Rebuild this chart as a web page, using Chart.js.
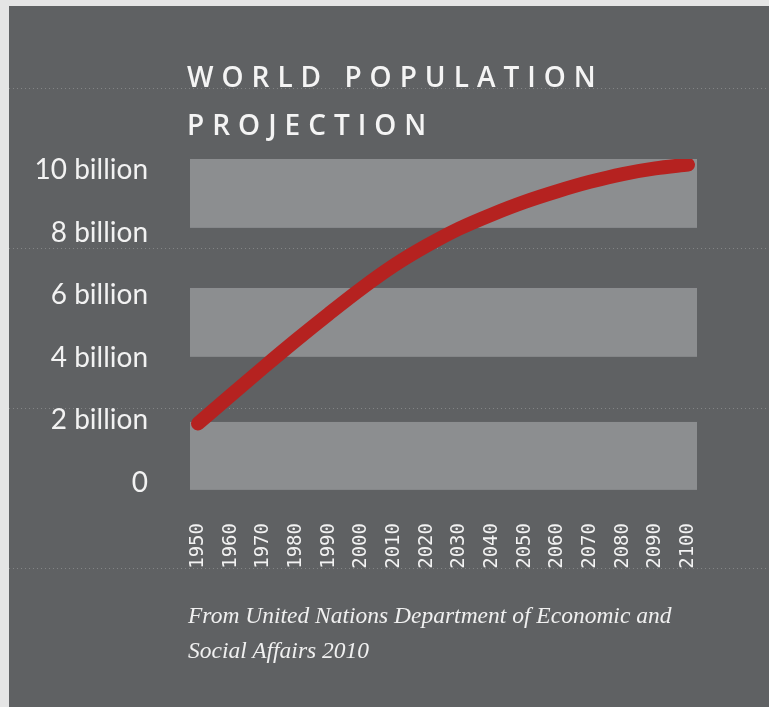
<!DOCTYPE html>
<html lang="en">
<head>
  <meta charset="UTF-8">
  <title>World Population Projection</title>
  <script src="https://cdn.jsdelivr.net/npm/chart.js"></script>
  <style>
    html, body {
      margin: 0;
      padding: 0;
      background: #e5e5e5;
      width: 769px;
      height: 707px;
      overflow: hidden;
    }
    #panel {
      position: absolute;
      left: 9px;
      top: 6px;
      width: 760px;
      height: 701px;
      background: #5f6163;
    }
    #chart {
      position: absolute;
      left: 0;
      top: 0;
    }
    .title {
      position: absolute;
      left: 178px;
      top: 46px;
      color: #f4f4f4;
      font-family: "Open Sans", sans-serif;
      font-weight: 600;
      font-size: 28px;
      line-height: 48px;
      letter-spacing: 8px;
      margin: 0;
      white-space: nowrap;
    }
    .source {
      position: absolute;
      left: 179px;
      top: 592px;
      color: #f0f0f0;
      font-family: "Liberation Serif", serif;
      font-style: italic;
      font-size: 23.5px;
      line-height: 35px;
      margin: 0;
      white-space: nowrap;
    }
  </style>
</head>
<body>
  <div id="panel">
    <canvas id="chart" width="760" height="701"></canvas>
    <h1 class="title">WORLD POPULATION<br>PROJECTION</h1>
    <p class="source">From United Nations Department of Economic and<br>Social Affairs 2010</p>
  </div>

  <script>
    // values (billions)
    const years = [1950, 1960, 1970, 1980, 1990, 2000, 2010, 2020, 2030, 2040, 2050, 2060, 2070, 2080, 2090, 2100];
    const population = [1.9, 2.8, 3.69, 4.56, 5.4, 6.21, 6.95, 7.58, 8.13, 8.58, 8.98, 9.32, 9.62, 9.87, 10.05, 10.17];
    const yTicks = [0, 2, 4, 6, 8, 10];
    const yTickLabels = ['0', '2 billion', '4 billion', '6 billion', '8 billion', '10 billion'];
    // light background bands (value ranges)
    const bands = [[-0.22, 1.95], [4.03, 6.23], [8.15, 10.35]];

    const points = years.map((y, i) => ({ x: y, y: population[i] }));

    const backdrop = {
      id: 'backdrop',
      beforeDraw(chart) {
        const ctx = chart.ctx;
        ctx.save();
        // faint dotted rules printed on the page
        ctx.strokeStyle = 'rgba(200,200,200,0.35)';
        ctx.lineWidth = 1;
        ctx.setLineDash([1, 3]);
        [82, 242, 402, 562].forEach(y => {
          ctx.beginPath();
          ctx.moveTo(0, y + 0.5);
          ctx.lineTo(chart.width, y + 0.5);
          ctx.stroke();
        });
        ctx.restore();
      },
      beforeDatasetsDraw(chart) {
        const ctx = chart.ctx;
        const area = chart.chartArea;
        const yScale = chart.scales.y;
        ctx.save();
        ctx.fillStyle = '#8c8e90';
        bands.forEach(([lo, hi]) => {
          const top = yScale.getPixelForValue(hi);
          const bottom = yScale.getPixelForValue(lo);
          ctx.fillRect(area.left, top, area.right - area.left, bottom - top);
        });
        ctx.restore();
      }
    };

    new Chart(document.getElementById('chart'), {
      type: 'line',
      data: {
        datasets: [{
          label: 'World population',
          data: points,
          borderColor: '#b52220',
          borderWidth: 14,
          borderCapStyle: 'round',
          borderJoinStyle: 'round',
          pointRadius: 0,
          cubicInterpolationMode: 'monotone',
          fill: false
        }]
      },
      options: {
        responsive: false,
        animation: false,
        layout: { padding: { top: 153, right: 72, left: 0, bottom: 0 } },
        plugins: {
          legend: { display: false },
          tooltip: { enabled: false }
        },
        scales: {
          x: {
            type: 'linear',
            min: 1947.55,
            max: 2102.76,
            grid: { display: false, drawTicks: false },
            border: { display: false },
            afterBuildTicks: axis => { axis.ticks = years.map(v => ({ value: v })); },
            afterFit: axis => { axis.height = 217; },
            ticks: {
              autoSkip: false,
              minRotation: 90,
              maxRotation: 90,
              padding: 33,
              color: '#f2f2f2',
              font: { family: '"DejaVu Sans Mono", monospace', size: 19 },
              callback: v => String(v)
            }
          },
          y: {
            min: -0.224,
            max: 10.35,
            grid: { display: false, drawTicks: false },
            border: { display: false },
            afterBuildTicks: axis => { axis.ticks = yTicks.map(v => ({ value: v })); },
            afterFit: axis => { axis.width = 181; },
            ticks: {
              padding: 42,
              color: '#f2f2f2',
              font: { family: 'Lato, sans-serif', size: 28 },
              callback: v => yTickLabels[yTicks.indexOf(v)]
            }
          }
        }
      },
      plugins: [backdrop]
    });
  </script>
</body>
</html>
